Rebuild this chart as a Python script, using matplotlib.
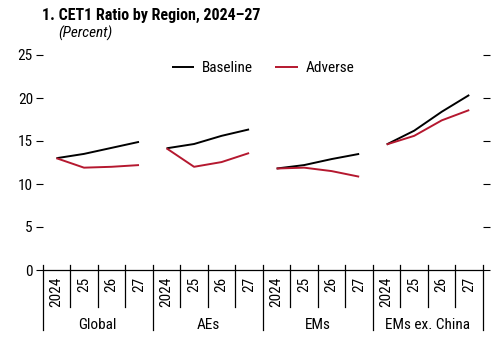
import matplotlib
matplotlib.use("Agg")
import matplotlib.pyplot as plt
import matplotlib.transforms as mtransforms
from matplotlib import font_manager

fams = {f.name for f in font_manager.fontManager.ttflist}
cond = "Roboto Condensed" if "Roboto Condensed" in fams else "DejaVu Sans"
plt.rcParams['font.family'] = [cond, 'DejaVu Sans']

regions = ["Global", "AEs", "EMs", "EMs ex. China"]
years = ["2024", "25", "26", "27"]
baseline = {
    "Global": [13.0, 13.5, 14.2, 14.9],
    "AEs": [14.15, 14.65, 15.6, 16.35],
    "EMs": [11.8, 12.2, 12.9, 13.5],
    "EMs ex. China": [14.6, 16.2, 18.4, 20.35],
}
adverse = {
    "Global": [13.0, 11.9, 12.0, 12.2],
    "AEs": [14.15, 12.0, 12.55, 13.6],
    "EMs": [11.8, 11.9, 11.5, 10.85],
    "EMs ex. China": [14.6, 15.6, 17.4, 18.6],
}
yticks = [0, 5, 10, 15, 20, 25]

RED = "#B5182F"
fig = plt.figure(figsize=(4.94, 3.52), dpi=100)
ax = fig.add_axes([42.7/494, 1-270/352, (483-42.7)/494, 215/352])

n = len(years)
for gi, r in enumerate(regions):
    xs = [gi*n + i for i in range(n)]
    lb, = ax.plot(xs, baseline[r], color="black", lw=1.4, solid_capstyle="butt")
    la, = ax.plot(xs, adverse[r], color=RED, lw=1.4, solid_capstyle="butt")

ax.set_xlim(-0.5, len(regions)*n - 0.5)
ax.set_ylim(0, 25)
ax.set_yticks(yticks)
ax.tick_params(axis='y', which='both', left=True, right=True, labelleft=True,
               labelright=False, direction='out', length=5, width=0.8,
               labelsize=11, pad=2)
ax.set_xticks([])
for s in ["top", "left", "right"]:
    ax.spines[s].set_visible(False)
ax.spines["bottom"].set_linewidth(0.9)

trans = mtransforms.blended_transform_factory(ax.transData, ax.transAxes)
total = len(regions)*n
for k in range(total + 1):
    x = k - 0.5
    low = -0.279 if k % n == 0 else -0.172
    ax.plot([x, x], [0.023, low], transform=trans, color="black", lw=0.9,
            clip_on=False)
for gi, r in enumerate(regions):
    for i, y in enumerate(years):
        ax.text(gi*n + i, -0.030, y, transform=trans, rotation=90,
                ha="center", va="top", fontsize=11)
    ax.text(gi*n + (n-1)/2, -0.255, r, transform=trans, ha="center",
            va="center", fontsize=11)

ax.legend([lb, la], ["Baseline", "Adverse"], loc="upper center",
          bbox_to_anchor=(0.5, 1.0), ncol=2, frameon=False, fontsize=11,
          handlelength=1.45, columnspacing=1.5, handletextpad=0.5,
          borderaxespad=0.0)

fig.text(42/494, 1-15/352, "1. CET1 Ratio by Region, 2024\u201327",
         fontsize=11.5, fontweight="bold", ha="left", va="center")
fig.text(58/494, 1-33/352, "(Percent)", fontsize=11, fontstyle="italic",
         ha="left", va="center")

fig.savefig("out.png", dpi=100)
